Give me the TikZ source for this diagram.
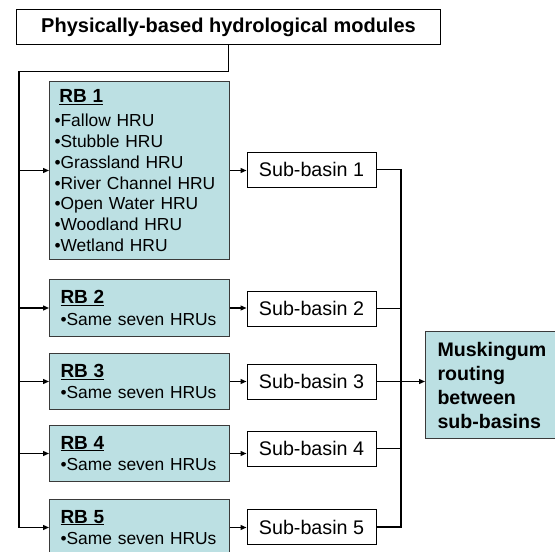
\documentclass[tikz,border=0pt]{standalone}
\usepackage{fontspec}
\setmainfont{Liberation Sans}
\usetikzlibrary{arrows.meta}
\definecolor{teal1}{HTML}{BCE0E3}
\definecolor{edge1}{HTML}{3A3A3A}
\tikzset{
  wbox/.style={draw=black, line width=1pt, fill=white, rectangle, inner sep=0pt},
  rbbox/.style={draw=edge1, line width=1pt, fill=teal1, rectangle, align=left, anchor=north west, inner ysep=0pt},
  conn/.style={line width=1.3pt, draw=black},
  arr/.style={conn, -{Triangle[length=6pt,width=5pt]}},
}
\newcommand{\rbtitle}[1]{{\fontsize{19}{21}\selectfont\bfseries\underline{#1}}}
\begin{document}
\begin{tikzpicture}[x=1pt,y=-1pt]
\useasboundingbox (0,0) rectangle (555,552);
\clip (0,0) rectangle (555,552);
% title
\node[wbox, minimum width=424, minimum height=35, anchor=north west, font=\fontsize{20}{22}\selectfont\bfseries] (title) at (16,9) {Physically-based hydrological modules};
% RB boxes
\node[rbbox, inner xsep=5pt, text width=170, minimum height=178, font=\fontsize{17.4}{20.7}\selectfont] (rb1) at (49,81)
 {\hspace*{5pt}\rbtitle{RB 1}\\[3.5pt]
 •Fallow HRU\\ •Stubble HRU\\ •Grassland HRU\\ •River Channel HRU\\ •Open Water HRU\\ •Woodland HRU\\ •Wetland HRU};
\node[rbbox, inner xsep=11pt, text width=158, minimum height=57, font=\fontsize{17.4}{20.7}\selectfont] (rb2) at (49,279)
 {\rbtitle{RB 2}\\[1pt] •Same seven HRUs};
\node[rbbox, inner xsep=11pt, text width=158, minimum height=56, font=\fontsize{17.4}{20.7}\selectfont] (rb3) at (49,353)
 {\rbtitle{RB 3}\\[1pt] •Same seven HRUs};
\node[rbbox, inner xsep=11pt, text width=158, minimum height=56, font=\fontsize{17.4}{20.7}\selectfont] (rb4) at (49,425)
 {\rbtitle{RB 4}\\[1pt] •Same seven HRUs};
\node[rbbox, inner xsep=11pt, text width=158, minimum height=56, font=\fontsize{17.4}{20.7}\selectfont] (rb5) at (49,499)
 {\rbtitle{RB 5}\\[1pt] •Same seven HRUs};
% sub-basins
\tikzset{sbbox/.style={wbox, minimum width=129, minimum height=35, font=\fontsize{19.7}{22}\selectfont}}
\node[sbbox] (sb1) at (311.5,169.5) {Sub-basin 1};
\node[sbbox] (sb2) at (311.5,308.5) {Sub-basin 2};
\node[sbbox] (sb3) at (311.5,381.5) {Sub-basin 3};
\node[sbbox] (sb4) at (311.5,448.5) {Sub-basin 4};
\node[sbbox] (sb5) at (311.5,527) {Sub-basin 5};
% Muskingum
\node[rbbox, inner xsep=12pt, text width=111, minimum height=107, font=\fontsize{19.6}{24}\selectfont\bfseries] (musk) at (425,331)
 {Muskingum\\ routing\\ between\\ sub-basins};
% trunk on the left
\coordinate (tk) at (19,71.5);
\draw[conn] (title.south) |- (tk) -- (tk |- rb5.west);
\foreach \r in {rb1,rb2,rb3,rb4,rb5}
  \draw[arr] (tk |- \r.west) -- (\r.west);
% RB to sub-basin
\foreach \i in {1,2,3,4,5}
  \draw[arr] (rb\i.east) -- (sb\i.west |- rb\i.east);
% collector on the right
\coordinate (rc) at (401,169.5);
\draw[conn] (sb1.east) -- (rc) -- (rc |- sb5.east) -- (sb5.east);
\foreach \i in {2,3,4}
  \draw[conn] (sb\i.east) -- (rc |- sb\i.east);
\draw[arr] (sb3.east) -- (musk.west |- sb3.east);
\end{tikzpicture}
\end{document}
